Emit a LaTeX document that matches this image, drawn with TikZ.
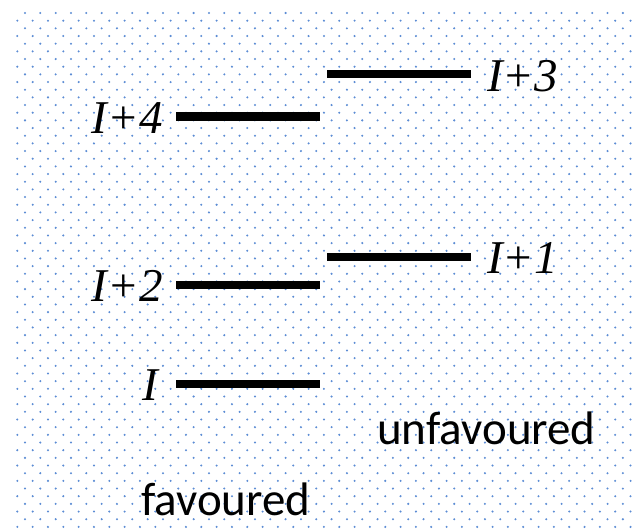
\documentclass[tikz,border=0pt]{standalone}
\usepackage{fontspec}
\setmainfont{Liberation Serif}
\newfontfamily\labelsans{Carlito}
\definecolor{griddot}{RGB}{92,140,212}
\tikzset{
  level/.style={fill=black, inner sep=0pt, minimum width=144pt, minimum height=8.5pt},
  lvlabel/.style={font=\fontsize{47}{47}\selectfont, inner sep=0pt},
  caption/.style={font=\labelsans\fontsize{47}{47}\selectfont, inner sep=0pt},
}
\begin{document}
\begin{tikzpicture}[x=1pt, y=-1pt]
  \useasboundingbox (0,0) rectangle (635,531);
  % staggered dot grid in the background
  \foreach \r in {0,...,67} {
    \pgfmathsetmacro{\yy}{13+7.67*\r}
    \pgfmathsetmacro{\xs}{mod(\r,2)==0 ? 25 : 17.33}
    \foreach \c in {0,...,40} {
      \pgfmathsetmacro{\xx}{\xs+15.33*\c}
      \ifdim\xx pt<634pt
        \fill[griddot] (\xx,\yy) circle (1.15);
      \fi
    }
  }
  % energy levels
  \node[level] (l4) at (248,116.5) {};
  \node[level] (l3) at (399,74) {};
  \node[level] (l2) at (248,285) {};
  \node[level] (l1) at (399,257) {};
  \node[level] (l0) at (248,384) {};
  % level labels, Times-style italic
  \node[lvlabel, anchor=base east] (t4) at (163,133) {\textit{I+4}};
  \node[lvlabel, anchor=base west] (t3) at (487,91) {\textit{I+3}};
  \node[lvlabel, anchor=base east] (t2) at (163,301.5) {\textit{I+2}};
  \node[lvlabel, anchor=base west] (t1) at (487,273.5) {\textit{I+1}};
  \node[lvlabel, anchor=base east] (t0) at (160,400.5) {\textit{I}};
  % captions
  \node[caption, anchor=base west] (unf) at (377,444.3) {unfavoured};
  \node[caption, anchor=base west] (fav) at (141,515) {favoured};
\end{tikzpicture}
\end{document}
